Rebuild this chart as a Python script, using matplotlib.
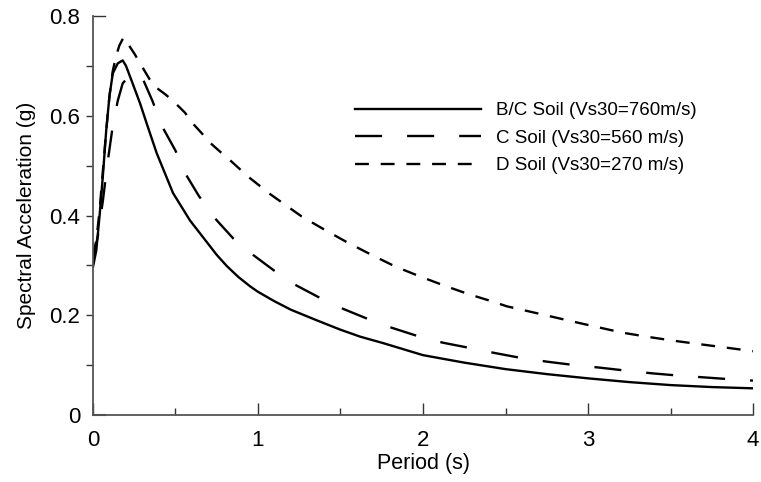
#!/usr/bin/env python3
import numpy as np
import matplotlib
matplotlib.use("Agg")
import matplotlib.pyplot as plt

plt.rcParams["font.family"] = ["Liberation Sans", "DejaVu Sans"]
plt.rcParams["lines.scale_dashes"] = False

# spectral acceleration (g) vs period (s)
t_bc = [0.0, 0.02, 0.04, 0.06, 0.08, 0.10, 0.12, 0.15, 0.18, 0.20, 0.24, 0.285,
        0.33, 0.386, 0.485, 0.588, 0.689, 0.75, 0.81, 0.88, 0.952, 1.0, 1.1, 1.2,
        1.355, 1.5, 1.62, 1.76, 2.0, 2.25, 2.5, 2.75, 3.0, 3.25, 3.5, 3.75, 4.0]
sa_bc = [0.297, 0.33, 0.40, 0.48, 0.57, 0.64, 0.685, 0.705, 0.711, 0.70, 0.665, 0.625,
         0.58, 0.525, 0.445, 0.39, 0.347, 0.321, 0.299, 0.277, 0.258, 0.247, 0.228, 0.211,
         0.19, 0.171, 0.157, 0.144, 0.12, 0.105, 0.092, 0.082, 0.0735, 0.066, 0.060, 0.056, 0.0535]

t_c = [0.0, 0.03, 0.06, 0.09, 0.12, 0.15, 0.18, 0.22, 0.29, 0.36, 0.42, 0.50,
       0.56, 0.64, 0.74, 0.85, 0.97, 1.1, 1.22, 1.38, 1.5, 1.67, 1.81, 1.97,
       2.12, 2.29, 2.44, 2.6, 2.75, 2.92, 3.07, 3.23, 3.39, 3.55, 3.7, 3.87, 4.0]
sa_c = [0.31, 0.36, 0.43, 0.51, 0.58, 0.63, 0.665, 0.68, 0.683, 0.63, 0.578, 0.53,
        0.484, 0.44, 0.394, 0.354, 0.321, 0.289, 0.262, 0.234, 0.215, 0.192, 0.175, 0.158,
        0.145, 0.134, 0.124, 0.114, 0.107, 0.1, 0.095, 0.089, 0.0835, 0.079, 0.0755, 0.0715, 0.069]

t_d = [0.0, 0.02, 0.04, 0.06, 0.08, 0.10, 0.12, 0.14, 0.16, 0.185, 0.21, 0.25,
       0.30, 0.365, 0.442, 0.497, 0.558, 0.598, 0.659, 0.709, 0.77, 0.83, 0.94,
       1.073, 1.265, 1.406, 1.547, 1.689, 1.83, 1.98, 2.133, 2.27, 2.436, 2.507,
       2.744, 2.9, 3.06, 3.21, 3.376, 3.54, 3.7, 4.0]
sa_d = [0.32, 0.35, 0.41, 0.49, 0.57, 0.64, 0.69, 0.72, 0.741, 0.757, 0.745, 0.725,
        0.697, 0.661, 0.642, 0.626, 0.606, 0.587, 0.565, 0.546, 0.528, 0.511, 0.478,
        0.443, 0.398, 0.371, 0.345, 0.321, 0.298, 0.278, 0.259, 0.243, 0.226, 0.218,
        0.20, 0.188, 0.176, 0.165, 0.156, 0.148, 0.141, 0.128]

labels = ["B/C Soil (Vs30=760m/s)", "C Soil (Vs30=560 m/s)", "D Soil (Vs30=270 m/s)"]

fig = plt.figure(figsize=(7.61, 4.82), dpi=100)
ax = fig.add_axes([0.1222, 0.139, 0.8673, 0.8278])

lw = 1.7
ax.plot(t_bc, sa_bc, color="black", lw=lw, label=labels[0])
ax.plot(t_c, sa_c, color="black", lw=lw, dashes=(19.5, 18), label=labels[1])
ax.plot(t_d, sa_d, color="black", lw=lw, dashes=(10, 8.5), label=labels[2])

ax.set_xlim(0, 4)
ax.set_ylim(0, 0.8)
ax.set_xticks([0, 1, 2, 3, 4])
ax.set_xticks([0.5, 1.5, 2.5, 3.5], minor=True)
ax.set_yticks([0, 0.2, 0.4, 0.6, 0.8])
ax.set_yticklabels(["0", "0.2", "0.4", "0.6", "0.8"])
ax.set_yticks([0.1, 0.3, 0.5, 0.7], minor=True)

for s in ["top", "right"]:
    ax.spines[s].set_visible(False)
for s in ["left", "bottom"]:
    ax.spines[s].set_color("#555555")
    ax.spines[s].set_linewidth(1.3)

ax.tick_params(axis="x", which="major", direction="in", length=8.5, width=1,
               color="#333333", labelsize=16, pad=11)
ax.tick_params(axis="x", which="minor", direction="in", length=5, width=1, color="#333333")
ax.tick_params(axis="y", which="both", direction="out", length=5, width=1,
               color="#333333", labelsize=16, pad=4)

# the end ticks of the y axis point inward instead
yt = ax.yaxis.get_major_ticks()
yt[0].tick1line.set_visible(False)
yt[-1].tick1line.set_visible(False)
ax.plot([0, 0.07], [0.8, 0.8], color="#333333", lw=1, clip_on=False)
ax.plot([0, 0.07], [0, 0], color="#333333", lw=1.5, clip_on=False)

ax.set_xlabel("Period (s)", fontsize=15.5, labelpad=1)
ax.set_ylabel("Spectral Acceleration (g)", fontsize=15, labelpad=10)

ax.legend(loc="center left", bbox_to_anchor=(0.397, 0.6935), frameon=False,
          fontsize=13.5, handlelength=6.7, handletextpad=0.8, labelspacing=0.55,
          borderpad=0, borderaxespad=0)

fig.savefig("out.png", dpi=100)
